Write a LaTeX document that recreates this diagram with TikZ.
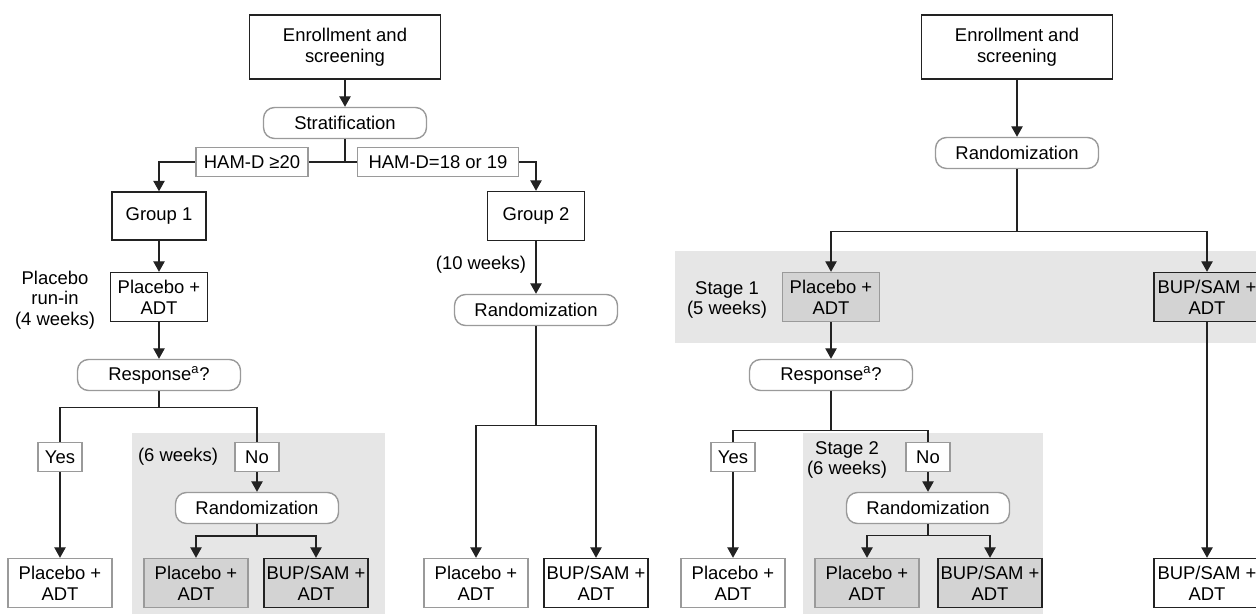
\documentclass[tikz,border=0pt]{standalone}
\usepackage{fontspec}
\setmainfont{Liberation Sans}
\usetikzlibrary{arrows.meta}
\definecolor{ink}{HTML}{222222}
\definecolor{edge}{HTML}{9A9A9A}
\definecolor{zone}{HTML}{E6E6E6}
\definecolor{cell}{HTML}{D3D3D3}
\tikzset{
  every node/.style={font=\fontsize{10.5}{11.8}\selectfont},
  box/.style={draw=ink, fill=white, line width=0.8pt, align=center, inner sep=0pt},
  soft/.style={box, draw=edge},
  pill/.style={soft, rounded corners=0.22cm, minimum width=3.26cm, minimum height=0.62cm},
  tag/.style={soft, minimum width=0.88cm, minimum height=0.58cm},
  arm/.style={minimum width=2.08cm, minimum height=0.98cm},
  head/.style={box, minimum width=3.82cm, minimum height=1.28cm},
  note/.style={align=center, inner sep=0pt},
  link/.style={draw=ink, line width=0.8pt},
  arr/.style={link, -{Triangle[width=6.5pt,length=6pt]}},
}

\begin{document}
\begin{tikzpicture}[x=0.02cm, y=-0.02cm]
  \useasboundingbox (0,0) rectangle (1256,614);

  % shaded stages
  \fill[zone] (132,433) rectangle (385,614);
  \fill[zone] (675,251) rectangle (1256,343);
  \fill[zone] (803,433) rectangle (1043,614);

  % left: stratified design
  \node[head] (enrA) at (345,47) {Enrollment and\\screening};
  \node[pill] (stratA) at (345,123) {Stratification};
  \node[box, minimum width=1.88cm, minimum height=0.96cm] (grp1) at (159,216) {Group 1};
  \node[box, minimum width=1.94cm, minimum height=0.98cm] (grp2) at (536,216) {Group 2};
  \node[box, arm, minimum width=1.94cm] (runA) at (159,297) {Placebo +\\ADT};
  \node[note] (runinA) at (55,300) {Placebo\\run-in\\(4 weeks)};
  \node[pill] (respA) at (159,375) {Response\textsuperscript{a}?};
  \node[tag] (yesA) at (60,457) {Yes};
  \node[tag] (noA) at (257,457) {No};
  \node[note] (sixA) at (178,457) {(6 weeks)};
  \node[pill] (randA) at (257,508) {Randomization};
  \node[soft, arm] (plaA) at (60,583) {Placebo +\\ADT};
  \node[soft, arm, fill=cell] (plaA2) at (196,583) {Placebo +\\ADT};
  \node[box, arm, fill=cell] (bupA2) at (316,583) {BUP/SAM +\\ADT};
  \node[note] (tenB) at (481,265) {(10 weeks)};
  \node[pill] (randB) at (536,310) {Randomization};
  \node[soft, arm] (plaB) at (476,583) {Placebo +\\ADT};
  \node[box, arm] (bupB) at (596,583) {BUP/SAM +\\ADT};

  \draw[arr] (enrA) -- (stratA);
  \draw[arr] (stratA.south) -- ++(0,23) -| (grp1.north);
  \draw[arr] (stratA.south) -- ++(0,23) -| (grp2.north);
  \node[tag, minimum width=2.24cm] (hamHi) at (252,162) {HAM-D ≥20};
  \node[tag, minimum width=3.22cm] (hamLo) at (438,162) {HAM-D=18 or 19};
  \draw[arr] (grp1) -- (runA);
  \draw[arr] (runA) -- (respA);
  \draw[link] (respA.south) -- ++(0,16.5) -| (yesA.north);
  \draw[link] (respA.south) -- ++(0,16.5) -| (noA.north);
  \draw[arr] (yesA) -- (plaA);
  \draw[arr] (noA) -- (randA);
  \draw[arr] (randA.south) -- ++(0,12) -| (plaA2.north);
  \draw[arr] (randA.south) -- ++(0,12) -| (bupA2.north);
  \draw[arr] (grp2) -- (randB);
  \draw[arr] (randB.south) -- ++(0,99.5) -| (plaB.north);
  \draw[arr] (randB.south) -- ++(0,99.5) -| (bupB.north);

  % right: two-stage design
  \node[head] (enrC) at (1017,47) {Enrollment and\\screening};
  \node[pill] (randC) at (1017,153) {Randomization};
  \node[note] (stage1) at (727,300) {Stage 1\\(5 weeks)};
  \node[soft, arm, minimum width=1.94cm, fill=cell] (plaC) at (831,297) {Placebo +\\ADT};
  \node[box, arm, minimum width=2.12cm, fill=cell] (bupC) at (1207,297) {BUP/SAM +\\ADT};
  \node[pill] (respC) at (831,375) {Response\textsuperscript{a}?};
  \node[tag] (yesC) at (733,457) {Yes};
  \node[tag] (noC) at (928,457) {No};
  \node[note] (stage2) at (847,460) {Stage 2\\(6 weeks)};
  \node[pill] (randC2) at (928,508) {Randomization};
  \node[soft, arm] (plaC2) at (733,583) {Placebo +\\ADT};
  \node[soft, arm, fill=cell] (plaC3) at (867,583) {Placebo +\\ADT};
  \node[box, arm, fill=cell] (bupC3) at (990,583) {BUP/SAM +\\ADT};
  \node[box, arm, minimum width=2.12cm] (bupC4) at (1207,583) {BUP/SAM +\\ADT};

  \draw[arr] (enrC) -- (randC);
  \draw[arr] (randC.south) -- ++(0,62.5) -| (plaC.north);
  \draw[arr] (randC.south) -- ++(0,62.5) -| (bupC.north);
  \draw[arr] (plaC) -- (respC);
  \draw[arr] (bupC) -- (bupC4);
  \draw[link] (respC.south) -- ++(0,39.5) -| (yesC.north);
  \draw[link] (respC.south) -- ++(0,39.5) -| (noC.north);
  \draw[arr] (yesC) -- (plaC2);
  \draw[arr] (noC) -- (randC2);
  \draw[arr] (randC2.south) -- ++(0,11.5) -| (plaC3.north);
  \draw[arr] (randC2.south) -- ++(0,11.5) -| (bupC3.north);
\end{tikzpicture}
\end{document}
